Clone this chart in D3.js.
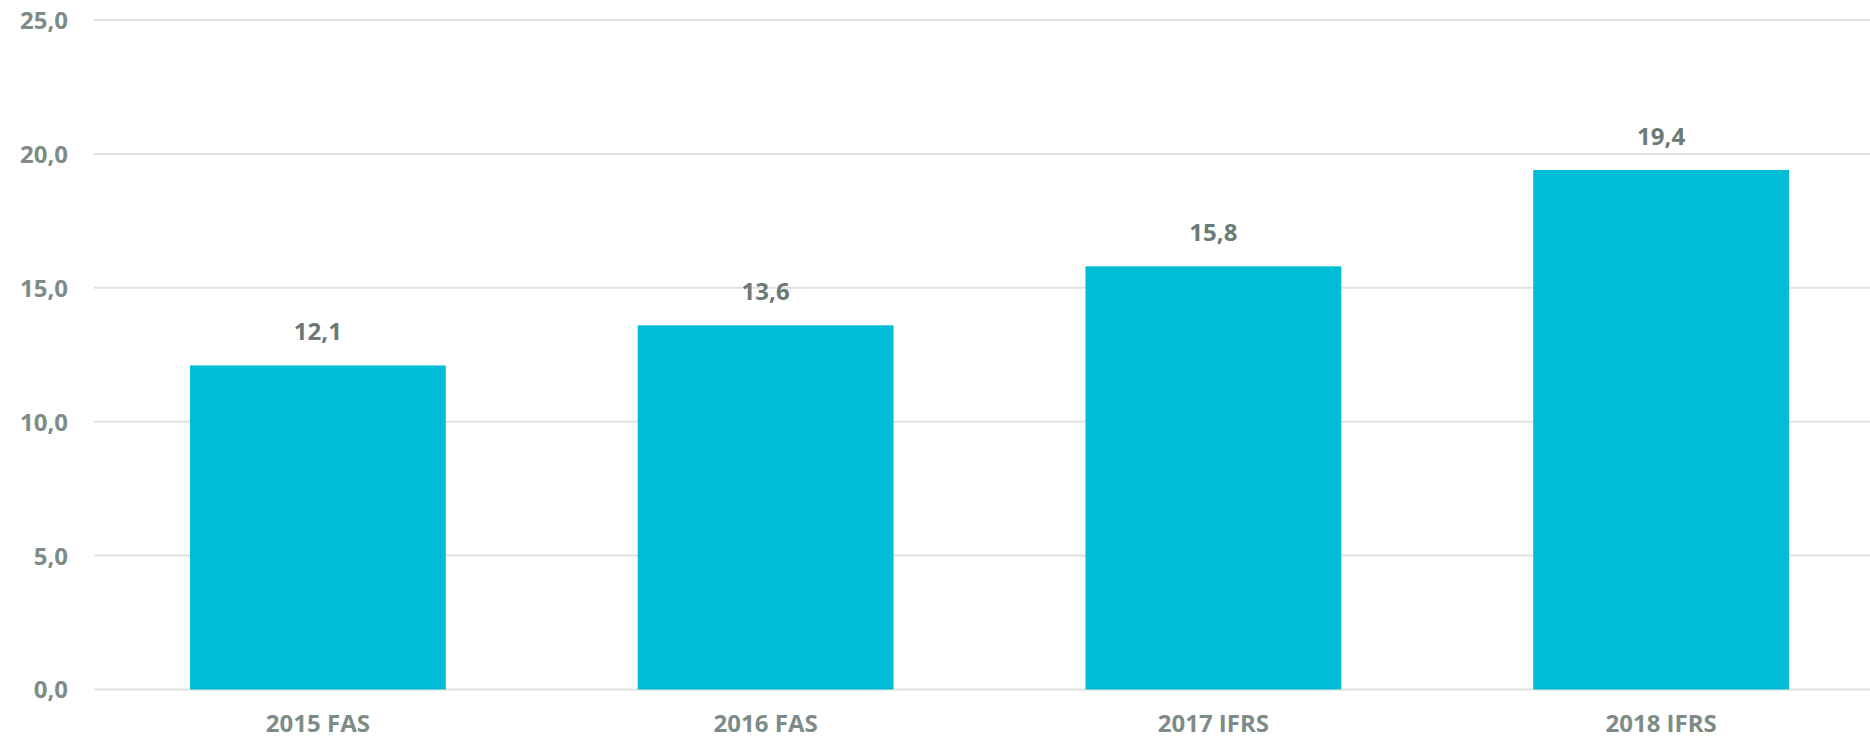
<!DOCTYPE html>
<head>
<meta charset="utf-8">
<style>

body {
  margin: 0;
  background: #fff;
}

.grid line {
  stroke: #e0e2e2;
  stroke-width: 2px;
}

.tick text, .xlab {
  font-family: "Open Sans", sans-serif;
  font-weight: 700;
  font-size: 24px;
  fill: #7e8c87;
}

.val {
  font-family: "Open Sans", sans-serif;
  font-weight: 700;
  font-size: 24px;
  fill: #6b7a75;
}

.bar {
  fill: #00bdd6;
}

</style>
<title>Bars</title>
</head>
<body>
<script src="https://cdn.jsdelivr.net/npm/d3@7/dist/d3.min.js"></script>
<script>

var categories = ["2015 FAS", "2016 FAS", "2017 IFRS", "2018 IFRS"];
var values = [12.1, 13.6, 15.8, 19.4];
var yTicks = [0, 5, 10, 15, 20, 25];

var width = 1870,
    height = 739;

var x = d3.scaleBand()
    .domain(categories)
    .range([94, 1885])
    .paddingInner(0.4286)
    .paddingOuter(0.2143);

var y = d3.scaleLinear()
    .domain([0, 25])
    .range([689.5, 20]);

var fmt = function(v) { return d3.format(".1f")(v).replace(".", ","); };

var svg = d3.select("body").append("svg")
    .attr("width", width)
    .attr("height", height);

// gridlines
svg.append("g")
    .attr("class", "grid")
    .selectAll("line")
    .data(yTicks)
  .enter().append("line")
    .attr("x1", 94)
    .attr("x2", 1885)
    .attr("y1", function(d) { return y(d); })
    .attr("y2", function(d) { return y(d); });

var yAxis = svg.append("g")
    .attr("transform", "translate(68,0)")
    .call(d3.axisLeft(y).tickValues(yTicks).tickFormat(fmt).tickSize(0).tickPadding(0));
yAxis.select(".domain").remove();
yAxis.selectAll("text").attr("dy", "0.35em");

svg.selectAll(".bar")
    .data(values)
  .enter().append("rect")
    .attr("class", "bar")
    .attr("x", function(d, i) { return x(categories[i]); })
    .attr("width", x.bandwidth())
    .attr("y", function(d) { return y(d); })
    .attr("height", function(d) { return y(0) - y(d); });

svg.selectAll(".val")
    .data(values)
  .enter().append("text")
    .attr("class", "val")
    .attr("text-anchor", "middle")
    .attr("x", function(d, i) { return x(categories[i]) + x.bandwidth() / 2; })
    .attr("y", function(d) { return y(d) - 25; })
    .text(fmt);

svg.selectAll(".xlab")
    .data(categories)
  .enter().append("text")
    .attr("class", "xlab")
    .attr("text-anchor", "middle")
    .attr("x", function(d) { return x(d) + x.bandwidth() / 2; })
    .attr("y", y(0) + 42)
    .text(function(d) { return d; });

</script>
</body>
